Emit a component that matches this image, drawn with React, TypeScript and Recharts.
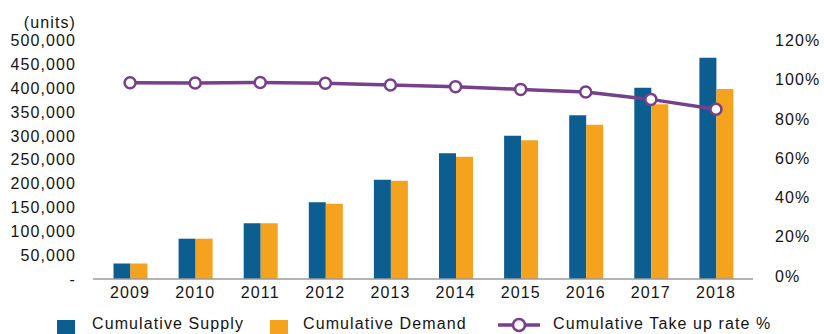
import {
	ComposedChart,
	Bar,
	Line,
	XAxis,
	YAxis,
} from "recharts";

const years = ["2009", "2010", "2011", "2012", "2013", "2014", "2015", "2016", "2017", "2018"];
const supply = [32500, 84500, 116700, 160800, 208000, 263500, 300400, 343100, 401000, 463800];
const demand = [32500, 84500, 116700, 157800, 206000, 256300, 290700, 323400, 366200, 398200];
const take_up = [98.5, 98.3, 98.6, 98.2, 97.3, 96.5, 95.1, 93.8, 90.0, 85.0];

const left_ticks = [0, 50000, 100000, 150000, 200000, 250000, 300000, 350000, 400000, 450000, 500000];
const right_ticks = [0, 20, 40, 60, 80, 100, 120];

const data = years.map((year, i) => ({
	year,
	supply: supply[i],
	demand: demand[i],
	rate: take_up[i],
}));

const BLUE = "#0b5e8f";
const ORANGE = "#f5a21f";
const PURPLE = "#76408a";
const TEXT = "#141414";
const FONT = "'Liberation Sans', Arial, sans-serif";

const tick_style = { fontSize: 16, fill: TEXT, fontFamily: FONT, letterSpacing: 1.1 };

function ChartLegend() {
	const text = {
		position: "absolute" as const,
		top: 316,
		fontSize: 16,
		lineHeight: "16px",
		letterSpacing: 1.1,
		color: TEXT,
		fontFamily: FONT,
		whiteSpace: "nowrap" as const,
	};
	return (
		<>
			<div style={{ position: "absolute", left: 57, top: 320, width: 18, height: 18, background: BLUE }} />
			<span style={{ ...text, left: 92 }}>Cumulative Supply</span>
			<div style={{ position: "absolute", left: 270, top: 320, width: 18, height: 18, background: ORANGE }} />
			<span style={{ ...text, left: 303 }}>Cumulative Demand</span>
			<svg style={{ position: "absolute", left: 496, top: 316 }} width={46} height={18}>
				<line x1={2} y1={9} x2={44} y2={9} stroke={PURPLE} strokeWidth={3.5} />
				<circle cx={23} cy={9} r={6} fill="#fff" stroke={PURPLE} strokeWidth={2.5} />
			</svg>
			<span style={{ ...text, left: 553 }}>Cumulative Take up rate %</span>
		</>
	);
}

export default function App() {
	return (
		<div style={{ position: "absolute", left: 0, top: 0, width: 824, height: 334, background: "#fff", overflow: "hidden" }}>
			<ComposedChart
				width={824}
				height={334}
				data={data}
				barSize={17}
				barGap={0}
				margin={{ top: 40.5, right: 0, bottom: 25, left: 0 }}
			>
				<XAxis
					dataKey="year"
					padding={{ left: 4.5, right: 4.5 }}
					height={30}
					tickLine={false}
					tickSize={0}
					tickMargin={8}
					axisLine={{ stroke: "#9a9a9a", strokeWidth: 1.5 }}
					tick={tick_style}
					interval={0}
				/>
				<YAxis
					yAxisId="left"
					width={93}
					domain={[0, 500000]}
					ticks={left_ticks}
					axisLine={false}
					tickLine={false}
					tickSize={0}
					tickMargin={17}
					tick={tick_style}
					tickFormatter={(v: number) => (v === 0 ? "-" : v.toLocaleString("en-US"))}
					label={{
						content: () => (
							<text x={76} y={22} dy="0.355em" textAnchor="end" fontSize={16} fill={TEXT} fontFamily={FONT} letterSpacing={1.1}>
								(units)
							</text>
						),
					}}
				/>
				<YAxis
					yAxisId="right"
					orientation="right"
					width={71}
					domain={[-1.5, 120]}
					ticks={right_ticks}
					allowDataOverflow
					axisLine={false}
					tickLine={false}
					tickSize={0}
					tickMargin={22}
					tick={tick_style}
					tickFormatter={(v: number) => `${v}%`}
				/>
				<Bar yAxisId="left" dataKey="supply" fill={BLUE} isAnimationActive={false} />
				<Bar yAxisId="left" dataKey="demand" fill={ORANGE} isAnimationActive={false} />
				<Line
					yAxisId="right"
					dataKey="rate"
					stroke={PURPLE}
					strokeWidth={3.5}
					dot={{ r: 5.5, fill: "#fff", stroke: PURPLE, strokeWidth: 2.5 }}
					isAnimationActive={false}
				/>
			</ComposedChart>
			<ChartLegend />
		</div>
	);
}
